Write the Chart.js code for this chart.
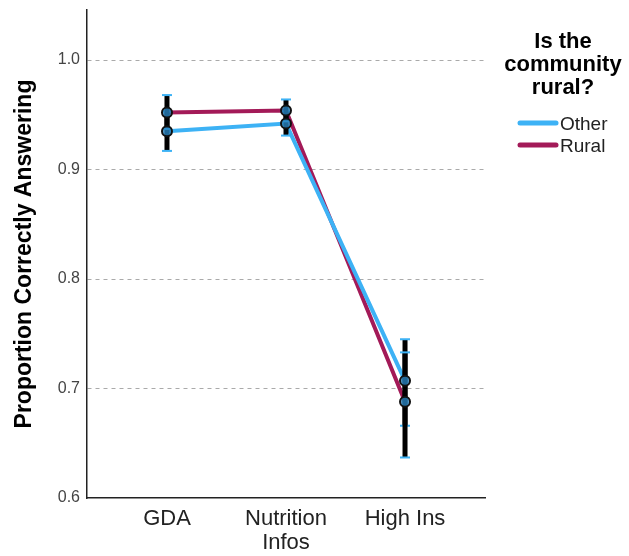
<!DOCTYPE html>
<html>
<head>
<meta charset="utf-8">
<script src="https://cdn.jsdelivr.net/npm/chart.js@4.4.1/dist/chart.umd.min.js"></script>
<style>
  body { margin: 0; background: #fff; }
  #wrap { width: 629px; height: 556px; }
</style>
</head>
<body>
<div id="wrap"><canvas id="meansChart" width="629" height="556"></canvas></div>
<script>
// categories (x tick labels)
const categories = ['GDA', ['Nutrition', 'Infos'], 'High Ins'];
const yTicks = [0.6, 0.7, 0.8, 0.9, 1.0];

// series: Other
const otherMean = [0.935, 0.942, 0.707];
const otherLow  = [0.917, 0.931, 0.666];
const otherHigh = [0.953, 0.953, 0.745];

// series: Rural
const ruralMean = [0.952, 0.954, 0.688];
const ruralLow  = [0.937, 0.944, 0.637];
const ruralHigh = [0.968, 0.964, 0.733];

const legendTitle = ['Is the', 'community', 'rural?'];

const FONT = "'Liberation Sans', Arial, sans-serif";

function toPoints(arr) {
  return arr.map((v, i) => ({ x: i, y: v }));
}

// error bars + markers, drawn over the lines
const errorBars = {
  id: 'errorBars',
  afterDatasetsDraw(chart) {
    const ctx = chart.ctx;
    const xs = chart.scales.x, ys = chart.scales.y;
    chart.data.datasets.forEach(ds => {
      ds.low.forEach((lo, i) => {
        const x = xs.getPixelForValue(i);
        const yLo = ys.getPixelForValue(lo);
        const yHi = ys.getPixelForValue(ds.high[i]);
        ctx.save();
        ctx.strokeStyle = '#000';
        ctx.lineWidth = 5;
        ctx.beginPath();
        ctx.moveTo(x, yLo);
        ctx.lineTo(x, yHi);
        ctx.stroke();
        ctx.strokeStyle = '#3db2f5';
        ctx.lineWidth = 2;
        [yLo, yHi].forEach(y => {
          ctx.beginPath();
          ctx.moveTo(x - 5, y);
          ctx.lineTo(x + 5, y);
          ctx.stroke();
        });
        ctx.restore();
      });
    });
    chart.data.datasets.forEach(ds => {
      ds.data.forEach(p => {
        const x = xs.getPixelForValue(p.x);
        const y = ys.getPixelForValue(p.y);
        ctx.save();
        ctx.fillStyle = 'rgba(40,130,190,0.8)';
        ctx.strokeStyle = '#111';
        ctx.lineWidth = 2;
        ctx.beginPath();
        ctx.arc(x, y, 5, 0, Math.PI * 2);
        ctx.fill();
        ctx.stroke();
        ctx.restore();
      });
    });
  }
};

// legend on the right side
const sideLegend = {
  id: 'sideLegend',
  afterDraw(chart) {
    const ctx = chart.ctx;
    ctx.save();
    ctx.fillStyle = '#000';
    ctx.font = 'bold 22px ' + FONT;
    ctx.textAlign = 'center';
    ctx.textBaseline = 'middle';
    legendTitle.forEach((t, i) => ctx.fillText(t, 563, 42 + i * 23));
    ctx.font = '19px ' + FONT;
    ctx.textAlign = 'left';
    chart.data.datasets.forEach((ds, i) => {
      const y = 123 + i * 22;
      ctx.strokeStyle = ds.borderColor;
      ctx.lineWidth = 5;
      ctx.lineCap = 'round';
      ctx.beginPath();
      ctx.moveTo(520, y);
      ctx.lineTo(556, y);
      ctx.stroke();
      ctx.fillStyle = '#222';
      ctx.fillText(ds.label, 560, y + 2);
    });
    ctx.restore();
  }
};

const ctx = document.getElementById('meansChart').getContext('2d');

new Chart(ctx, {
  type: 'line',
  data: {
    datasets: [
      {
        label: 'Other',
        data: toPoints(otherMean),
        low: otherLow,
        high: otherHigh,
        borderColor: '#3db2f5',
        borderWidth: 4,
        pointRadius: 0,
        fill: false
      },
      {
        label: 'Rural',
        data: toPoints(ruralMean),
        low: ruralLow,
        high: ruralHigh,
        borderColor: '#a31a58',
        borderWidth: 4,
        pointRadius: 0,
        fill: false
      }
    ]
  },
  options: {
    responsive: false,
    animation: false,
    layout: { padding: { top: 10, right: 144, left: 0, bottom: 0 } },
    plugins: {
      legend: { display: false },
      tooltip: { enabled: false }
    },
    scales: {
      x: {
        type: 'linear',
        min: -0.672,
        max: 2.672,
        afterBuildTicks: s => { s.ticks = [0, 1, 2].map(v => ({ value: v })); },
        afterFit: s => { s.height = 58; s.paddingLeft = 0; s.paddingRight = 0; },
        ticks: {
          callback: v => categories[v],
          color: '#222',
          font: { family: FONT, size: 22, lineHeight: 1.1 },
          padding: 9,
          maxRotation: 0,
          autoSkip: false
        },
        grid: { display: false, drawTicks: false },
        border: { display: true, color: '#222', width: 1.5 }
      },
      y: {
        min: 0.6,
        max: 1.0457,
        afterBuildTicks: s => { s.ticks = yTicks.map(v => ({ value: v })); },
        afterFit: s => { s.width = 87; s.paddingTop = 0; s.paddingBottom = 0; },
        ticks: {
          callback: v => v.toFixed(1),
          color: '#444',
          font: { family: FONT, size: 16 },
          padding: 7
        },
        grid: {
          drawTicks: false,
          color: c => (c.tick && c.tick.value > 0.65 ? '#aaa' : 'rgba(0,0,0,0)'),
          lineWidth: 1
        },
        border: { display: true, color: '#222', width: 1.5, dash: [4, 4] },
        title: {
          display: true,
          text: 'Proportion Correctly Answering',
          color: '#000',
          font: { family: FONT, size: 23, weight: 'bold' },
          padding: { top: 11, bottom: 0 }
        }
      }
    }
  },
  plugins: [errorBars, sideLegend]
});
</script>
</body>
</html>
